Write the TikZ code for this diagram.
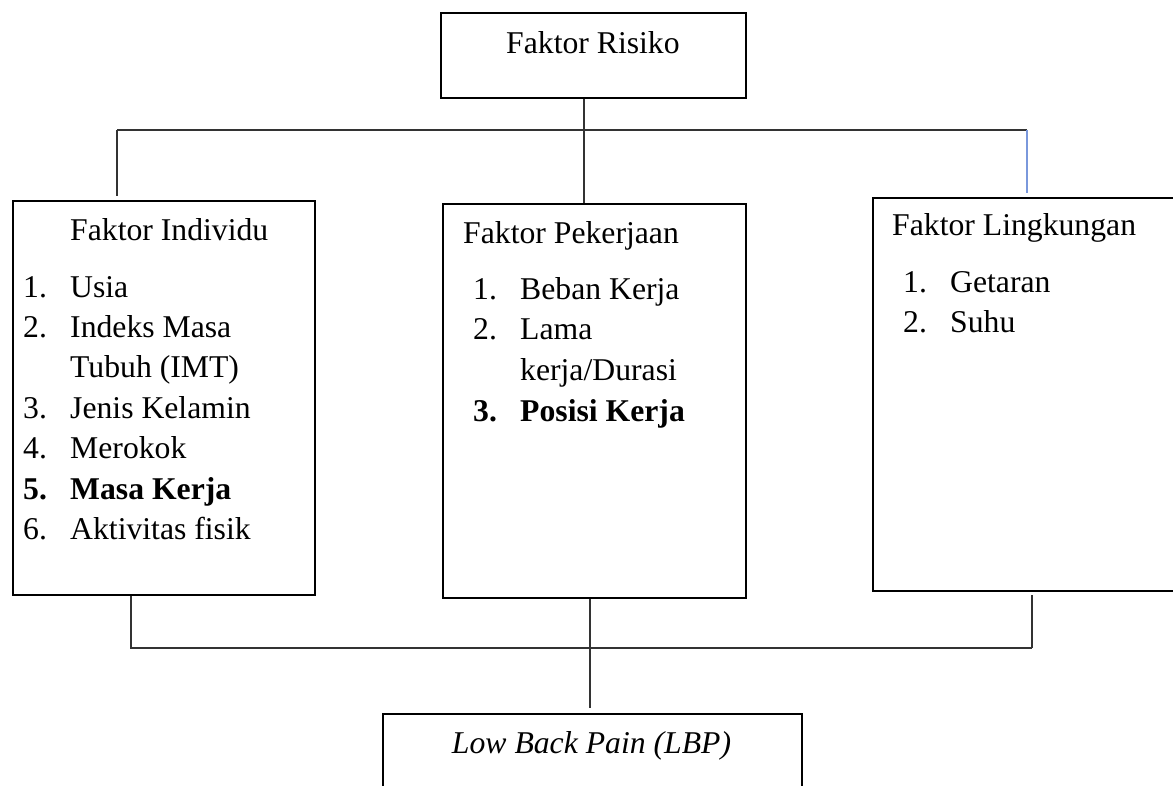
\documentclass[tikz,border=0pt]{standalone}
\usepackage{fontspec}
\setmainfont{Liberation Serif}
\usetikzlibrary{calc}
\definecolor{linkblue}{RGB}{122,152,220}
\begin{document}
\begin{tikzpicture}[x=1pt,y=-1pt,
  box/.style={draw=black, line width=2pt, anchor=north west, inner sep=0pt, fill=none},
  conn/.style={draw=black!80, line width=1.4pt},
  blueconn/.style={draw=linkblue, line width=1.6pt},
  txt/.style={anchor=base west, inner sep=0pt, font=\fontsize{31.7}{40}\selectfont}]
\useasboundingbox (0,0) rectangle (1173,785);
\clip (0,0) rectangle (1173,785);
\fill[white] (0,0) rectangle (1173,785);

% boxes
\node[box, minimum width=305pt, minimum height=85pt] (risiko) at (440,12) {};
\node[box, minimum width=302pt, minimum height=394pt] (ind) at (12,200) {};
\node[box, minimum width=303pt, minimum height=394pt] (pek) at (442,203) {};
\node[box, minimum width=320pt, minimum height=393pt] (ling) at (872,197) {};
\node[box, minimum width=419pt, minimum height=100pt] (lbp) at (382,713) {};

% texts
\node[txt] (trisiko) at (506,53) {Faktor Risiko};

\node[txt] (tind) at (70,240) {Faktor Individu};
\node[txt] (i1n) at (23,297) {1.};  \node[txt] (i1) at (70,297) {Usia};
\node[txt] (i2n) at (23,337) {2.};  \node[txt] (i2) at (70,337) {Indeks Masa};
\node[txt] (i2b) at (70,377) {Tubuh (IMT)};
\node[txt] (i3n) at (23,418) {3.};  \node[txt] (i3) at (70,418) {Jenis Kelamin};
\node[txt] (i4n) at (23,458) {4.};  \node[txt] (i4) at (70,458) {Merokok};
\node[txt] (i5n) at (23,499) {\bfseries 5.}; \node[txt] (i5) at (70,499) {\bfseries Masa Kerja};
\node[txt] (i6n) at (23,539) {6.};  \node[txt] (i6) at (70,539) {Aktivitas fisik};

\node[txt] (tpek) at (463,243) {Faktor Pekerjaan};
\node[txt] (p1n) at (473,299) {1.}; \node[txt] (p1) at (520,299) {Beban Kerja};
\node[txt] (p2n) at (473,339) {2.}; \node[txt] (p2) at (520,339) {Lama};
\node[txt] (p2b) at (520,380) {kerja/Durasi};
\node[txt] (p3n) at (473,421) {\bfseries 3.}; \node[txt] (p3) at (520,421) {\bfseries Posisi Kerja};

\node[txt] (tling) at (892,235) {Faktor Lingkungan};
\node[txt] (l1n) at (903,292) {1.}; \node[txt] (l1) at (950,292) {Getaran};
\node[txt] (l2n) at (903,332) {2.}; \node[txt] (l2) at (950,332) {Suhu};

\node[anchor=base, inner sep=0pt, font=\fontsize{31.7}{40}\selectfont\itshape] (tlbp) at (591.5,753) {Low Back Pain (LBP)};

% connectors
\coordinate (j0) at (584,130);
\coordinate (jl) at (117,130);
\coordinate (jr) at (1027,130);
\draw[conn] (jl) -- (jr);
\draw[conn] (j0 |- risiko.south) -- (j0 |- pek.north);
\draw[conn] (jl) -- ([yshift=4pt]jl |- ind.north);
\draw[blueconn] (jr) -- ([yshift=4pt]jr |- ling.north);

\coordinate (bl) at (131,648);
\coordinate (bm) at (590,648);
\coordinate (br) at (1032,648);
\draw[conn] (bl |- ind.south) -- (bl) -- (br);
\draw[conn] ([yshift=-3pt]br |- ling.south) -- (br);
\draw[conn] (bm |- pek.south) -- ([yshift=5pt]bm |- lbp.north);
\end{tikzpicture}
\end{document}
